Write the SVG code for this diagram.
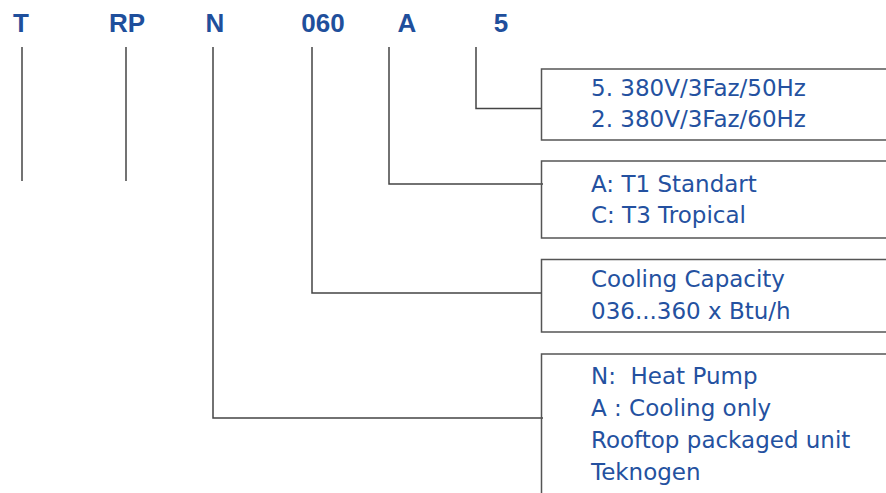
<svg xmlns="http://www.w3.org/2000/svg" width="886" height="493" viewBox="0 0 886 493">
<style>
.hdr{font-family:"Liberation Sans",Arial,sans-serif;font-weight:bold;font-size:26px;fill:#1f4f9c;text-anchor:middle}
.txt{font-family:"DejaVu Sans","Liberation Sans",sans-serif;font-size:23px;fill:#2451a0;white-space:pre}
.ln{fill:none;stroke:#444;stroke-width:1.5}
.box{fill:none;stroke:#555;stroke-width:1.5}
</style>
<rect width="886" height="493" fill="#fff"/>
<g id="headers">
<text class="hdr" x="21" y="32">T</text>
<text class="hdr" x="127" y="32">RP</text>
<text class="hdr" x="215" y="32">N</text>
<text class="hdr" x="323" y="32">060</text>
<text class="hdr" x="407" y="32">A</text>
<text class="hdr" x="501" y="32">5</text>
</g>
<g id="connectors">
<path class="ln" d="M22,47 V181"/>
<path class="ln" d="M126,47 V181"/>
<path class="ln" d="M213,47 V418 H543"/>
<path class="ln" d="M312,47 V293 H542"/>
<path class="ln" d="M389,47 V184 H543"/>
<path class="ln" d="M476,47 V108.5 H542"/>
</g>
<g id="box-voltage">
<path class="box" d="M886,69 H541.5 V140 H886"/>
<text class="txt" x="591" y="95.5">5. 380V/3Faz/50Hz</text>
<text class="txt" x="591" y="127">2. 380V/3Faz/60Hz</text>
</g>
<g id="box-climate">
<path class="box" d="M886,161 H541.5 V238 H886"/>
<text class="txt" x="591" y="191.5">A: T1 Standart</text>
<text class="txt" x="591" y="223">C: T3 Tropical</text>
</g>
<g id="box-capacity">
<path class="box" d="M886,259.5 H541.5 V332 H886"/>
<text class="txt" x="591" y="287">Cooling Capacity</text>
<text class="txt" x="591" y="319">036...360 x Btu/h</text>
</g>
<g id="box-type">
<path class="box" d="M886,354 H541.5 V493"/>
<text class="txt" x="591" y="384">N:  Heat Pump</text>
<text class="txt" x="591" y="416">A : Cooling only</text>
<text class="txt" x="591" y="448">Rooftop packaged unit</text>
<text class="txt" x="591" y="480">Teknogen</text>
</g>
</svg>
